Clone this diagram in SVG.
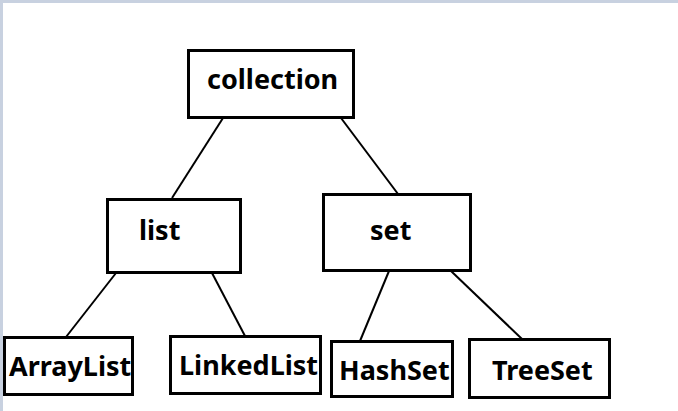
<svg xmlns="http://www.w3.org/2000/svg" width="678" height="411" viewBox="0 0 678 411">
<style>
.box{fill:#fff;stroke:#000;stroke-width:3}
.lbl{font-family:"Noto Sans","Open Sans","DejaVu Sans",sans-serif;font-weight:bold;font-size:27px;fill:#000}
.con line{stroke:#000;stroke-width:2}
</style>
<rect x="0" y="0" width="678" height="411" fill="#fff"/>
<rect x="0" y="0" width="678" height="3" fill="#c8d1e0"/>
<rect x="0" y="0" width="3" height="411" fill="#c8d1e0"/>
<g class="con" id="connectors">
<line x1="223" y1="118" x2="172" y2="198"/>
<line x1="341" y1="118" x2="398" y2="194"/>
<line x1="116" y1="273" x2="66" y2="337"/>
<line x1="212" y1="273" x2="245" y2="336"/>
<line x1="389" y1="271" x2="360" y2="341"/>
<line x1="451" y1="271" x2="522" y2="339"/>
</g>
<g id="collection"><rect class="box" x="188.5" y="50.5" width="165" height="67"/><text class="lbl" x="207" y="89">collection</text></g>
<g id="list"><rect class="box" x="107.5" y="199.5" width="133" height="73"/><text class="lbl" x="139" y="240">list</text></g>
<g id="set"><rect class="box" x="323.5" y="194.5" width="147" height="76"/><text class="lbl" x="370" y="240">set</text></g>
<g id="arraylist"><rect class="box" x="4.5" y="337.5" width="128" height="57"/><text class="lbl" x="9" y="376">ArrayList</text></g>
<g id="linkedlist"><rect class="box" x="170.5" y="336.5" width="150" height="57"/><text class="lbl" x="179" y="375">LinkedList</text></g>
<g id="hashset"><rect class="box" x="331.5" y="341.5" width="121" height="55"/><text class="lbl" x="339" y="380">HashSet</text></g>
<g id="treeset"><rect class="box" x="469.5" y="339.5" width="140" height="58"/><text class="lbl" x="492" y="380">TreeSet</text></g>
</svg>
